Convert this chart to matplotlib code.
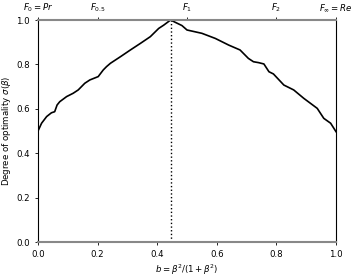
import matplotlib
matplotlib.use("Agg")
import matplotlib.pyplot as plt

b_vals = [0.0, 0.012, 0.029, 0.045, 0.056, 0.064, 0.073, 0.096, 0.118, 0.135, 0.157, 0.174,
          0.202, 0.219, 0.23, 0.243, 0.277, 0.31, 0.344, 0.377, 0.405, 0.422, 0.445,
          0.46, 0.483, 0.50, 0.55, 0.595, 0.64, 0.678, 0.706, 0.723, 0.74, 0.758,
          0.775, 0.79, 0.825, 0.858, 0.892, 0.937, 0.959, 0.982, 1.0]
sigma_vals = [0.50, 0.535, 0.565, 0.582, 0.587, 0.617, 0.632, 0.655, 0.67, 0.685, 0.715, 0.73,
              0.745, 0.775, 0.79, 0.805, 0.835, 0.865, 0.895, 0.925, 0.962, 0.977, 1.0,
              0.99, 0.975, 0.955, 0.94, 0.917, 0.887, 0.865, 0.827, 0.812, 0.808, 0.802,
              0.767, 0.757, 0.707, 0.685, 0.647, 0.602, 0.557, 0.535, 0.497]
b_opt = 0.446
top_ticks = [0.0, 0.2, 0.5, 0.8, 1.0]
top_labels = [r"$F_0 = Pr$", r"$F_{0.5}$", r"$F_1$", r"$F_2$", r"$F_\infty = Re$"]
x_ticks = [0.0, 0.2, 0.4, 0.6, 0.8, 1.0]
y_ticks = [0.0, 0.2, 0.4, 0.6, 0.8, 1.0]

fs = 6.2
fig = plt.figure(figsize=(3.57, 2.76), dpi=100)
ax = fig.add_axes([38 / 357, 34 / 276, 298 / 357, 222 / 276])
ax.plot(b_vals, sigma_vals, color="black", lw=1.2)
ax.axvline(b_opt, color="black", lw=1.0, ls=":")
ax.set_xlim(0, 1)
ax.set_ylim(0, 1)
ax.set_xticks(x_ticks)
ax.set_yticks(y_ticks)
ax.tick_params(labelsize=fs, length=2.5, width=0.6)
for s in ["top", "bottom"]:
    ax.spines[s].set_color("#888888")
    ax.spines[s].set_linewidth(1.5)
for s in ["left", "right"]:
    ax.spines[s].set_linewidth(0.8)
ax.set_xlabel(r"$b = \beta^2/(1 + \beta^2)$", fontsize=fs, labelpad=2)
ax.set_ylabel(r"Degree of optimality $\sigma(\beta)$", fontsize=fs, labelpad=2)

sec = ax.secondary_xaxis("top")
sec.set_xticks(top_ticks)
sec.set_xticklabels(top_labels)
sec.tick_params(labelsize=fs, length=2.5, width=0.6, pad=1.5)
sec.spines["top"].set_visible(False)

fig.savefig("out.png", dpi=100)
